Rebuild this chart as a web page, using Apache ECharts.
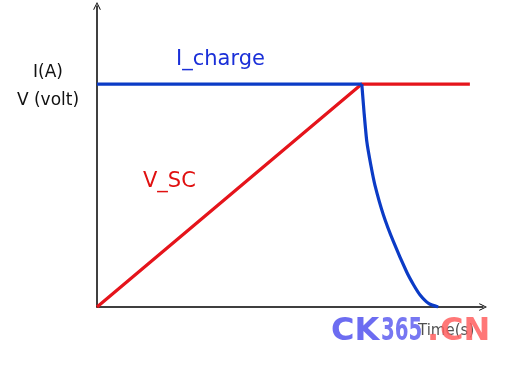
<!DOCTYPE html>
<html>
<head>
<meta charset="utf-8">
<script src="https://cdn.jsdelivr.net/npm/echarts@6/dist/echarts.min.js"></script>
<style>html,body{margin:0;padding:0;background:#fff}#c{width:506px;height:366px}</style>
</head>
<body>
<div id="c"></div>
<script>
// Data (arbitrary time units on x, normalised level on y)
const chargeFlat = [[0, 1], [6.86, 1]];
const chargeDecay = [[6.86, 1], [6.92, 0.87], [6.99, 0.742], [7.09, 0.64], [7.20, 0.547], [7.42, 0.413], [7.68, 0.293], [8.02, 0.158], [8.20, 0.10], [8.37, 0.054], [8.60, 0.015], [8.84, 0]];
const vsc = [[0, 0], [6.86, 1], [9.66, 1]];
const xMax = 10;
const yMax = 1.35;

const chart = echarts.init(document.getElementById('c'), null, {renderer: 'canvas'});
const chevron = 'path://M0,10 L5,0 L10,10 L9,10.6 L5,2.4 L1,10.6 Z';
const axisCommon = {
  axisLine: {show: true, onZero: false, symbol: ['none', chevron], symbolSize: [9, 8], symbolOffset: [0, 0], lineStyle: {color: '#000', width: 1.5}},
  axisTick: {show: false}, axisLabel: {show: false}, splitLine: {show: false}
};
const BLUE = '#0b3bc6', RED = '#e5141b';
chart.setOption({
  animation: false,
  backgroundColor: '#fff',
  grid: {left: 97, right: 23, top: 6, bottom: 59},
  xAxis: Object.assign({type: 'value', min: 0, max: xMax}, axisCommon),
  yAxis: Object.assign({type: 'value', min: 0, max: yMax}, axisCommon),
  series: [
    {type: 'line', data: vsc, symbol: 'none', lineStyle: {color: RED, width: 3.2}, z: 2},
    {type: 'line', data: chargeFlat, symbol: 'none', lineStyle: {color: BLUE, width: 3.2}, z: 3},
    {type: 'line', data: chargeDecay, symbol: 'none', smooth: 0.2, lineStyle: {color: BLUE, width: 3.2, join: 'round'}, z: 3}
  ],
  graphic: [
    {type: 'text', style: {text: 'I(A)', x: 48, y: 73, align: 'center', verticalAlign: 'middle', font: '17px "DejaVu Sans"', fill: '#111'}},
    {type: 'text', style: {text: 'V (volt)', x: 48, y: 101, align: 'center', verticalAlign: 'middle', font: '17px "DejaVu Sans"', fill: '#111'}},
    {type: 'text', style: {text: 'I_charge', x: 176, y: 60, align: 'left', verticalAlign: 'middle', font: '21px "DejaVu Sans"', fill: '#1a2fd8'}},
    {type: 'text', style: {text: 'V_SC', x: 143, y: 182, align: 'left', verticalAlign: 'middle', font: '21px "DejaVu Sans"', fill: '#e01010'}},
    {type: 'text', z: 11, style: {text: 'Time(s)', x: 418, y: 331, align: 'left', verticalAlign: 'middle', font: '15px "DejaVu Sans"', fill: 'rgba(20,20,20,0.75)'}},
    {type: 'text', z: 12, style: {text: 'CK', x: 331, y: 332, align: 'left', verticalAlign: 'middle', font: 'bold 32px "DejaVu Sans"', fill: 'rgba(95,95,240,0.92)'}},
    {type: 'text', z: 12, x: 381, y: 332, scaleX: 0.62, style: {text: '365', x: 0, y: 0, align: 'left', verticalAlign: 'middle', font: 'bold 32px "DejaVu Sans"', fill: 'rgba(95,95,240,0.85)'}},
    {type: 'text', z: 12, style: {text: '.', x: 427, y: 332, align: 'left', verticalAlign: 'middle', font: 'bold 32px "DejaVu Sans"', fill: 'rgba(255,95,95,0.85)'}},
    {type: 'text', z: 12, style: {text: 'CN', x: 440, y: 332, align: 'left', verticalAlign: 'middle', font: 'bold 32px "DejaVu Sans"', fill: 'rgba(255,95,95,0.85)'}}
  ]
});
</script>
</body>
</html>
